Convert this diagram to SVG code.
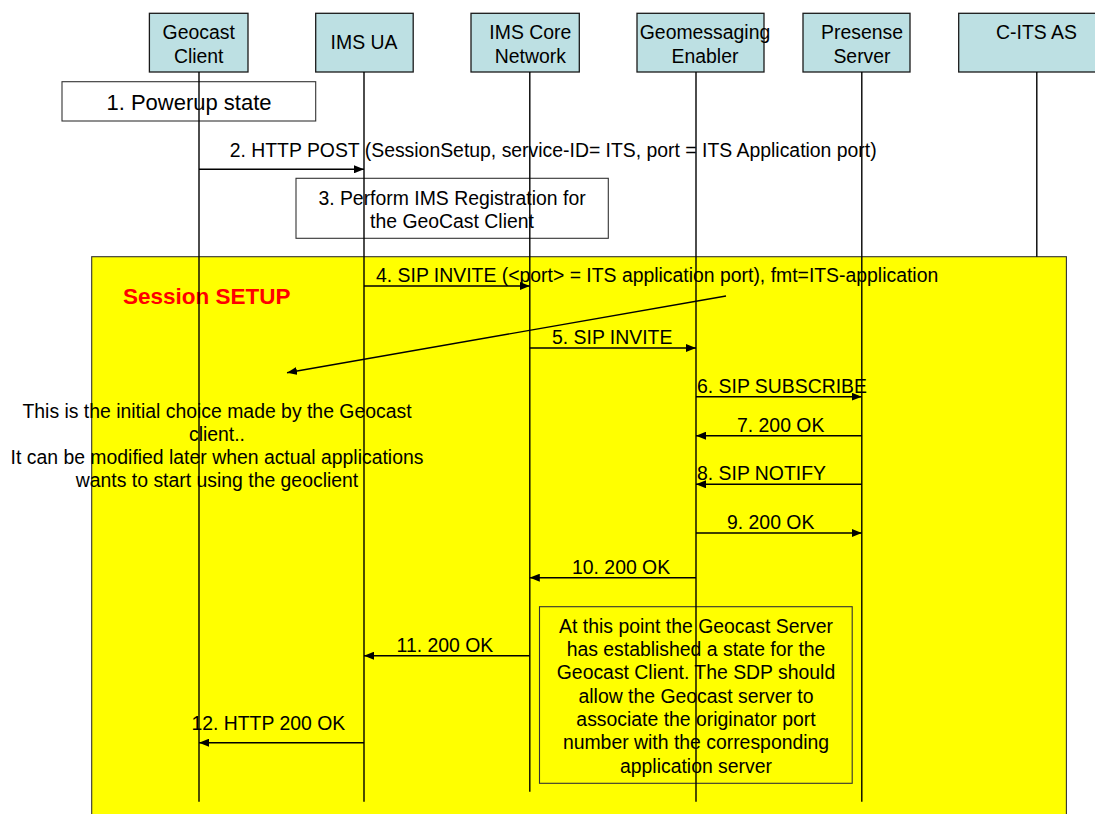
<svg xmlns="http://www.w3.org/2000/svg" width="1095" height="814" viewBox="0 0 1095 814">
<defs>
<style>
text{font-family:"Liberation Sans",Arial,sans-serif;font-size:19.4px;fill:#000}
.c{text-anchor:middle}
.hdr{fill:#BDE0E3;stroke:#1a1a1a;stroke-width:1.3}
.box{fill:#fff;stroke:#333;stroke-width:1.1}
.note{fill:none;stroke:#333;stroke-width:1.1}
.life{stroke:#000;stroke-width:1.4;fill:none}
.msg{stroke:#000;stroke-width:1.4;fill:none;marker-end:url(#ah)}
</style>
<marker id="ah" viewBox="0 0 10 8" refX="10" refY="4" markerWidth="10" markerHeight="8" markerUnits="userSpaceOnUse" orient="auto">
<path d="M0,0 L10,4 L0,8 z" fill="#000"/>
</marker>
</defs>
<rect width="1095" height="814" fill="#fff"/>

<g id="session-setup">
<rect x="91.7" y="256.7" width="974.7" height="570" fill="#FFFF00" stroke="#333" stroke-width="1.1"/>
<text x="123" y="303.5" style="font-size:22.5px;font-weight:bold;fill:#FF0000">Session SETUP</text>
</g>

<g id="step1-powerup">
<rect class="box" x="62" y="81.7" width="253.7" height="39.3"/>
<text class="c" x="189" y="110" style="font-size:22px">1. Powerup state</text>
</g>

<g id="step3-registration">
<rect class="box" x="296" y="178.3" width="312.3" height="60"/>
<text class="c" x="452" y="205">3. Perform IMS Registration for</text>
<text class="c" x="452" y="227.5">the GeoCast Client</text>
</g>

<g id="note-initial-choice">
<text class="c" x="217" y="418">This is the initial choice made by the Geocast</text>
<text class="c" x="217" y="441">client..</text>
<text class="c" x="217" y="464">It can be modified later when actual applications</text>
<text class="c" x="217" y="487">wants to start using the geoclient</text>
</g>

<g id="note-geocast-server">
<rect class="note" x="539.5" y="606.7" width="312.7" height="176.6"/>
<text class="c" x="696" y="633">At this point the Geocast Server</text>
<text class="c" x="696" y="656">has established a state for the</text>
<text class="c" x="696" y="679">Geocast Client. The SDP should</text>
<text class="c" x="696" y="702.5">allow the Geocast server to</text>
<text class="c" x="696" y="725.5">associate the originator port</text>
<text class="c" x="696" y="749">number with the corresponding</text>
<text class="c" x="696" y="772.5">application server</text>
</g>

<g id="geocast-client">
<rect class="hdr" x="149.4" y="13.3" width="98.6" height="58.7"/>
<text class="c" x="198.7" y="39">Geocast</text>
<text class="c" x="198.7" y="62.5">Client</text>
</g>
<g id="ims-ua">
<rect class="hdr" x="315.7" y="13.3" width="97.5" height="58.7"/>
<text class="c" x="364" y="49">IMS UA</text>
</g>
<g id="ims-core-network">
<rect class="hdr" x="471" y="13.3" width="108.3" height="58.7"/>
<text class="c" x="530.3" y="39">IMS Core</text>
<text class="c" x="530.3" y="62.5">Network</text>
</g>
<g id="geomessaging-enabler">
<rect class="hdr" x="637" y="13.3" width="127" height="58.7"/>
<text class="c" x="705" y="39">Geomessaging</text>
<text class="c" x="705" y="62.5">Enabler</text>
</g>
<g id="presense-server">
<rect class="hdr" x="803" y="13.3" width="107" height="58.7"/>
<text class="c" x="862" y="39">Presense</text>
<text class="c" x="862" y="62.5">Server</text>
</g>
<g id="c-its-as">
<rect class="hdr" x="958.7" y="13.3" width="160" height="58.7"/>
<text class="c" x="1036.5" y="39.3">C-ITS AS</text>
</g>

<g id="labels">
<text x="229.7" y="157">2. HTTP POST (SessionSetup, service-ID= ITS, port = ITS Application port)</text>
<text x="376" y="282">4. SIP INVITE (&lt;port&gt; = ITS application port), fmt=ITS-application</text>
<text x="552" y="344">5. SIP INVITE</text>
<text x="697" y="393">6. SIP SUBSCRIBE</text>
<text x="737" y="432">7. 200 OK</text>
<text x="697" y="480">8. SIP NOTIFY</text>
<text x="727" y="528.5">9. 200 OK</text>
<text x="572" y="574">10. 200 OK</text>
<text x="396.6" y="652">11. 200 OK</text>
<text x="191.4" y="730">12. HTTP 200 OK</text>
</g>

<g id="connectors">
<line class="life" x1="199" y1="72" x2="199" y2="801.7"/>
<line class="life" x1="364" y1="72" x2="364" y2="801.7"/>
<line class="life" x1="529.8" y1="72" x2="529.8" y2="791.7"/>
<line class="life" x1="696" y1="72" x2="696" y2="801.7"/>
<line class="life" x1="861.8" y1="72" x2="861.8" y2="801.7"/>
<line class="life" x1="1036.8" y1="72" x2="1036.8" y2="256.7"/>

<line class="msg" x1="199" y1="169.3" x2="364" y2="169.3"/>
<line class="msg" x1="364" y1="286" x2="529.8" y2="286"/>
<line class="msg" x1="726" y1="296" x2="287" y2="372.7"/>
<line class="msg" x1="529.8" y1="348" x2="696" y2="348"/>
<line class="msg" x1="696" y1="396.7" x2="861.8" y2="396.7"/>
<line class="msg" x1="861.8" y1="435.7" x2="696" y2="435.7"/>
<line class="msg" x1="861.8" y1="484.3" x2="696" y2="484.3"/>
<line class="msg" x1="696" y1="533" x2="861.8" y2="533"/>
<line class="msg" x1="696" y1="577.7" x2="529.8" y2="577.7"/>
<line class="msg" x1="529.8" y1="655.7" x2="364" y2="655.7"/>
<line class="msg" x1="364" y1="742.7" x2="199" y2="742.7"/>
</g>
</svg>
